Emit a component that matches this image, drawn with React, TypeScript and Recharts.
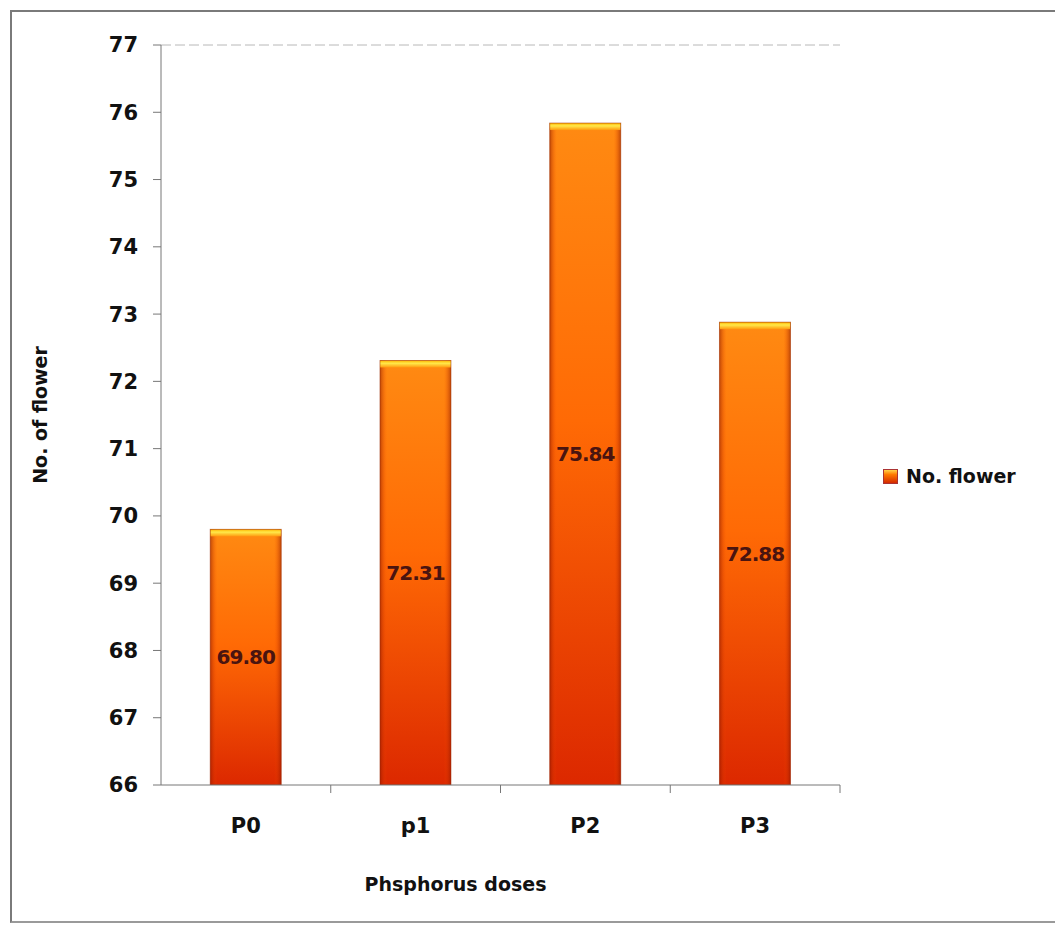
import { BarChart, Bar, XAxis, YAxis, LabelList, ReferenceLine, Label } from 'recharts'

const doses = ['P0', 'p1', 'P2', 'P3']
const flowers = [69.8, 72.31, 75.84, 72.88]
const yTicks = [66, 67, 68, 69, 70, 71, 72, 73, 74, 75, 76, 77]

const data = doses.map((dose, i) => ({ dose, flowers: flowers[i] }))

const W = 1055
const H = 933
const M = { top: 45, right: 215, bottom: 88, left: 0 }
const Y_AXIS_W = 161
const BAND = (W - M.left - M.right - Y_AXIS_W) / doses.length

const font = "'DejaVu Sans', Verdana, sans-serif"

// bar body: orange→red gradient, darker sides and a yellow bevel on top
const BarShape = (props: any) => {
  const { x, y, width, height } = props
  if (!height || height <= 0) return null
  return (
    <g>
      <rect x={x} y={y} width={width} height={height} fill="url(#bodyGrad)" />
      <rect x={x} y={y} width={width} height={height} fill="url(#sideGrad)" />
      <rect x={x} y={y} width={width} height={7} fill="url(#capGrad)" />
      <rect x={x} y={y} width={width} height={height} fill="none" stroke="#9a2a05" strokeOpacity={0.5} />
    </g>
  )
}

const XTick = (props: any) => {
  const { x, y, payload } = props
  return (
    <g>
      <line x1={x + BAND / 2} x2={x + BAND / 2} y1={y - 34} y2={y - 26} stroke="#777" />
      <text x={x} y={y} dy={14} textAnchor="middle" fontFamily={font} fontWeight="bold" fontSize={21} fill="#111">
        {payload.value}
      </text>
    </g>
  )
}

export default function App () {
  return (
    <div style={{ position: 'absolute', left: 0, top: 0, width: W, height: H, background: '#fff', overflow: 'hidden' }}>
      <div
        style={{
          position: 'absolute',
          left: 10,
          top: 10,
          width: W - 10,
          height: 913,
          borderLeft: '2px solid #7a7a7a',
          borderTop: '2px solid #7a7a7a',
          borderBottom: '2px solid #9a9a9a',
          boxSizing: 'border-box'
        }}
      />
      <BarChart
        width={W}
        height={H}
        data={data}
        margin={M}
        barCategoryGap="29%"
        style={{ position: 'absolute', left: 0, top: 0 }}
      >
        <defs>
          <linearGradient id="bodyGrad" x1="0" y1="0" x2="0" y2="1">
            <stop offset="0%" stopColor="#ff8a12" />
            <stop offset="45%" stopColor="#ff6a05" />
            <stop offset="100%" stopColor="#dc2800" />
          </linearGradient>
          <linearGradient id="sideGrad" x1="0" y1="0" x2="1" y2="0">
            <stop offset="0%" stopColor="#8a1500" stopOpacity={0.55} />
            <stop offset="10%" stopColor="#ff5000" stopOpacity={0} />
            <stop offset="90%" stopColor="#ff5000" stopOpacity={0} />
            <stop offset="100%" stopColor="#8a1500" stopOpacity={0.55} />
          </linearGradient>
          <linearGradient id="capGrad" x1="0" y1="0" x2="0" y2="1">
            <stop offset="0%" stopColor="#ffb400" />
            <stop offset="40%" stopColor="#ffe94a" />
            <stop offset="100%" stopColor="#ff9a10" />
          </linearGradient>
        </defs>
        <ReferenceLine y={77} stroke="#b8b8b8" strokeDasharray="10 4" />
        <XAxis
          dataKey="dose"
          height={60}
          axisLine={{ stroke: '#777' }}
          tickLine={false}
          tickSize={0}
          tickMargin={34}
          tick={<XTick />}
          interval={0}
        >
          <Label
            value="Phsphorus doses"
            position="bottom"
            offset={33}
            dx={-45}
            style={{ fontFamily: font, fontWeight: 'bold', fontSize: 19, fill: '#111' }}
          />
        </XAxis>
        <YAxis
          width={Y_AXIS_W}
          domain={[66, 77]}
          ticks={yTicks}
          interval={0}
          allowDataOverflow
          axisLine={{ stroke: '#777' }}
          tickLine={{ stroke: '#777' }}
          tickSize={8}
          tickMargin={15}
          tick={{ fontFamily: font, fontWeight: 'bold', fontSize: 21, fill: '#111' }}
        >
          <Label
            value="No. of flower"
            angle={-90}
            position="insideLeft"
            offset={40}
            style={{ fontFamily: font, fontWeight: 'bold', fontSize: 19, fill: '#111', textAnchor: 'middle' }}
          />
        </YAxis>
        <Bar dataKey="flowers" name="No. flower" shape={<BarShape />} isAnimationActive={false}>
          <LabelList
            dataKey="flowers"
            position="center"
            formatter={(v: any) => Number(v).toFixed(2)}
            style={{ fontFamily: font, fontWeight: 'bold', fontSize: 20, fill: '#4a1410', letterSpacing: -1 }}
          />
        </Bar>
      </BarChart>
      {/* series key, right of the plot */}
      <div
        style={{
          position: 'absolute',
          left: 883,
          top: 465,
          display: 'flex',
          alignItems: 'center',
          fontFamily: font,
          fontWeight: 'bold',
          fontSize: 19,
          color: '#111'
        }}
      >
        <span
          style={{
            width: 13,
            height: 13,
            marginRight: 8,
            background: 'linear-gradient(#ffd24a 0%, #ff7a00 35%, #d42a00 100%)',
            border: '1px solid #a33'
          }}
        />
        No. flower
      </div>
    </div>
  )
}
